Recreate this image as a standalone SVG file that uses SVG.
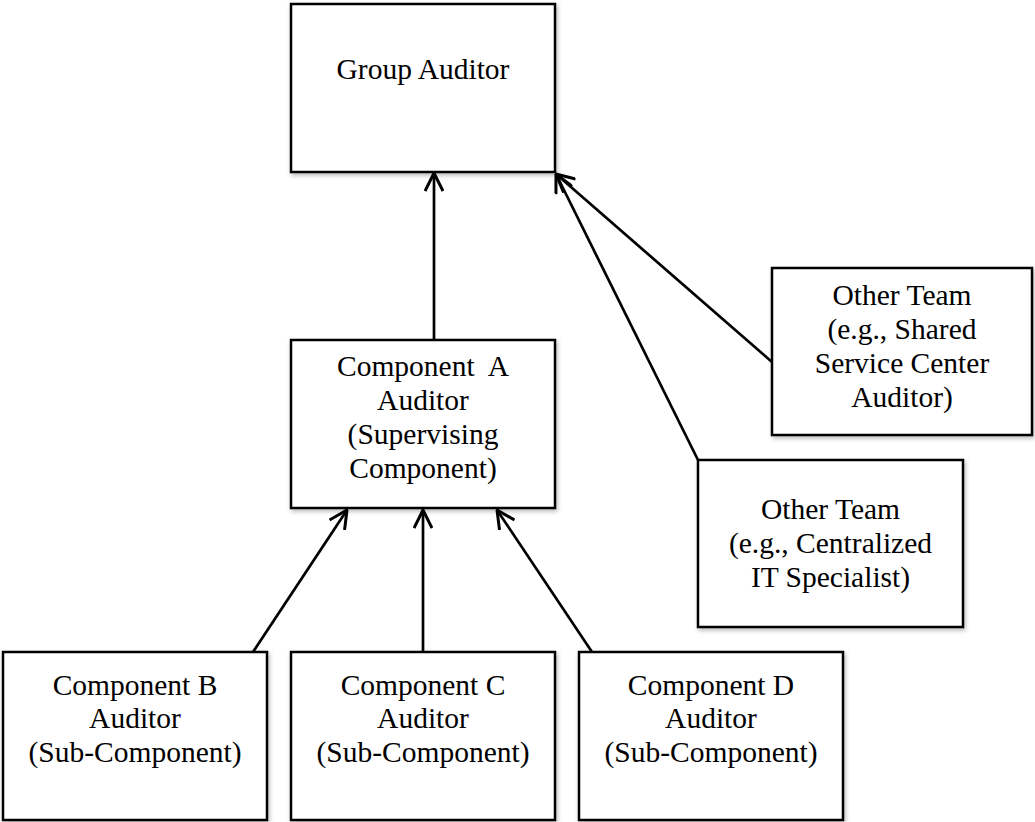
<svg xmlns="http://www.w3.org/2000/svg" width="1035" height="822" viewBox="0 0 1035 822">
<style>
.box{fill:#ffffff;stroke:#000000;stroke-width:2.5;filter:url(#sh)}
.lbl{font-family:"Liberation Serif","Times New Roman",serif;font-size:29.5px;fill:#000000;text-anchor:middle}
.edge{stroke:#000000;stroke-width:2.7;fill:none;marker-end:url(#arr)}
</style>
<defs>
<filter id="sh" x="-10%" y="-10%" width="120%" height="120%">
<feDropShadow dx="1.5" dy="2.5" stdDeviation="2" flood-color="#000000" flood-opacity="0.25"/>
</filter>
<marker id="arr" viewBox="0 0 20 20" refX="19" refY="10" markerWidth="20" markerHeight="20" markerUnits="userSpaceOnUse" orient="auto">
<path d="M1,1 L19,10 L1,19" fill="none" stroke="#000000" stroke-width="3"/>
</marker>
</defs>
<rect width="1035" height="822" fill="#ffffff"/>
<g id="connectors">
<line class="edge" x1="434" y1="340" x2="434" y2="173"/>
<line class="edge" x1="772" y1="362" x2="556" y2="174"/>
<line class="edge" x1="698" y1="460" x2="556" y2="174"/>
<line class="edge" x1="253" y1="652" x2="347" y2="510"/>
<line class="edge" x1="423" y1="652" x2="423" y2="510"/>
<line class="edge" x1="592" y1="652" x2="497" y2="510"/>
</g>
<g id="group-auditor">
<rect class="box" x="291" y="4" width="264" height="168"/>
<text class="lbl" x="423" y="79">Group Auditor</text>
</g>
<g id="component-a">
<rect class="box" x="291" y="340" width="264" height="168"/>
<text class="lbl" xml:space="preserve"><tspan x="423" y="376">Component  A</tspan><tspan x="423" y="410">Auditor</tspan><tspan x="423" y="444">(Supervising</tspan><tspan x="423" y="478">Component)</tspan></text>
</g>
<g id="other-team-ssc">
<rect class="box" x="772" y="268" width="260" height="167"/>
<text class="lbl"><tspan x="902" y="305">Other Team</tspan><tspan x="902" y="339">(e.g., Shared</tspan><tspan x="902" y="373">Service Center</tspan><tspan x="902" y="407">Auditor)</tspan></text>
</g>
<g id="other-team-it">
<rect class="box" x="698" y="460" width="265" height="167"/>
<text class="lbl"><tspan x="830.5" y="519">Other Team</tspan><tspan x="830.5" y="553">(e.g., Centralized</tspan><tspan x="830.5" y="587">IT Specialist)</tspan></text>
</g>
<g id="component-b">
<rect class="box" x="3" y="652" width="264" height="168"/>
<text class="lbl"><tspan x="135" y="695">Component B</tspan><tspan x="135" y="728">Auditor</tspan><tspan x="135" y="762">(Sub-Component)</tspan></text>
</g>
<g id="component-c">
<rect class="box" x="291" y="652" width="264" height="168"/>
<text class="lbl"><tspan x="423" y="695">Component C</tspan><tspan x="423" y="728">Auditor</tspan><tspan x="423" y="762">(Sub-Component)</tspan></text>
</g>
<g id="component-d">
<rect class="box" x="579" y="652" width="264" height="168"/>
<text class="lbl"><tspan x="711" y="695">Component D</tspan><tspan x="711" y="728">Auditor</tspan><tspan x="711" y="762">(Sub-Component)</tspan></text>
</g>
</svg>
